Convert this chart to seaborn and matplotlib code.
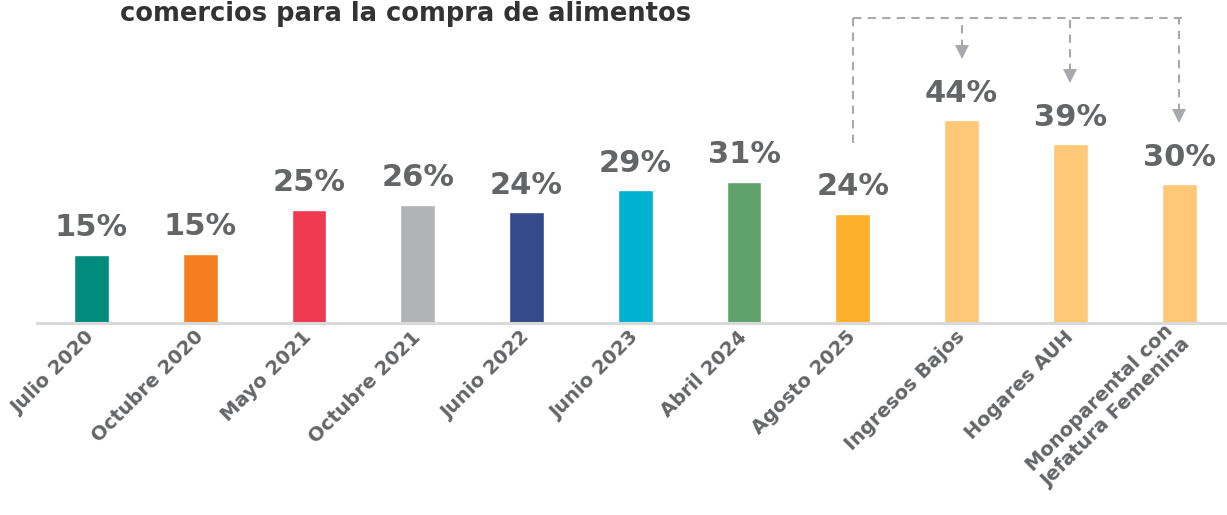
import matplotlib
matplotlib.use("Agg")
import matplotlib.pyplot as plt
import seaborn as sns
import pandas as pd

categories = ["Julio 2020", "Octubre 2020", "Mayo 2021", "Octubre 2021", "Junio 2022",
              "Junio 2023", "Abril 2024", "Agosto 2025", "Ingresos Bajos", "Hogares AUH",
              "Monoparental con\nJefatura Femenina"]
values = [14.8, 15.0, 24.6, 25.7, 24.1, 28.9, 30.7, 23.7, 44.1, 38.9, 30.2]
colors = ["#008b7d", "#f47f20", "#ef3a50", "#b1b3b6", "#344a89", "#00b1d2",
          "#5fa36a", "#fbb02a", "#fec878", "#fec878", "#fec878"]
title = "comercios para la compra de alimentos"

# groups pointed at by the dashed bracket (starts above Agosto 2025)
bracket_from = 7
bracket_to = [8, 9, 10]

LABEL_GRAY = "#646567"
DASH_GRAY = "#a7a9ac"

sns.set_style("white")
fig = plt.figure(figsize=(12.27, 5.15), dpi=100)
ax = fig.add_axes([37 / 1227, 192 / 515, 1190 / 1227, 323 / 515])

df = pd.DataFrame({"cat": categories, "val": values})
sns.barplot(data=df, x="cat", y="val", hue="cat", palette=colors, legend=False,
            width=0.32, saturation=1, ax=ax)

ax.set_xlim(-0.5, 10.44)
ax.set_ylim(0, 70.2)
ax.set_xlabel("")
ax.set_ylabel("")
ax.set_yticks([])
for s in ["top", "right", "left"]:
    ax.spines[s].set_visible(False)
ax.spines["bottom"].set_color("#d9d9d9")
ax.spines["bottom"].set_linewidth(2.2)

ax.tick_params(axis="x", length=0, pad=8)
ax.set_xticks(range(len(categories)))
ax.set_xticklabels(categories, rotation=45, ha="right", va="center",
                   rotation_mode="anchor", fontsize=14, fontweight="bold",
                   color=LABEL_GRAY, multialignment="center")

for i, v in enumerate(values):
    ax.annotate(f"{round(v)}%", (i, v), xytext=(0, 9), textcoords="offset points",
                ha="center", va="bottom", fontsize=22, fontweight="bold",
                color=LABEL_GRAY)

# dashed bracket with arrows
top_y = 66.3
dash = dict(color=DASH_GRAY, lw=1.5, ls=(0, (4, 3)))
ax.plot([bracket_from, bracket_from], [values[bracket_from] + 15.4, top_y], **dash)
ax.plot([bracket_from, bracket_to[-1] + 0.03], [top_y, top_y], **dash)
for j in bracket_to:
    tip = values[j] + 13.6
    ax.plot([j, j], [tip + 2, top_y], **dash)
    ax.plot([j], [tip + 1.2], marker="v", markersize=10, color=DASH_GRAY,
            markeredgewidth=0)

fig.text(120 / 1227, 1 - 1 / 515, title, ha="left", va="top",
         fontsize=18.5, fontweight="bold", color="#333333")

fig.savefig("out.png", dpi=100)
